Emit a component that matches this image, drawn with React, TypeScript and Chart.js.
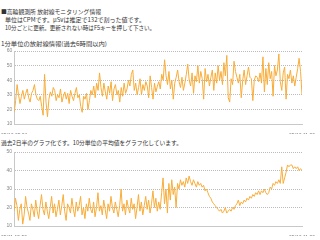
import React, { useEffect, useLayoutEffect, useRef } from "react";
import { Chart, registerables } from "chart.js";
Chart.register(...registerables);

const titleLines = [
  "■高輪観測所 放射線モニタリング情報",
  "単位はCPMです。μSvは推定で132で割った値です。",
  "10分ごとに更新。更新されない時はF5キーを押して下さい。",
];
const chart1Title = "1分単位の放射線情報(過去6時間以内)";
const chart2Title = "過去2日半のグラフ化です。10分単位の平均値をグラフ化しています。";

const minuteTicks = ["05/13 05:21", "05/13 11:20"];
const tenMinTicks = ["05/11 15:50", "05/13 11:20"];

const minuteValues = [
  18, 26, 37, 30, 24, 29, 33, 27, 31, 34,
  28, 25, 31, 33, 37, 30, 27, 26, 29, 22,
  16, 44, 25, 15, 27, 32, 29, 35, 33, 26,
  30, 28, 34, 25, 29, 32, 27, 31, 24, 33,
  29, 26, 31, 35, 28, 30, 22, 18, 29, 27,
  31, 20, 26, 33, 30, 36, 28, 38, 33, 45,
  35, 29, 38, 32, 27, 36, 31, 39, 26, 34,
  37, 30, 33, 25, 35, 29, 38, 31, 34, 40,
  36, 44, 47, 33, 38, 30, 35, 41, 30, 37,
  33, 39, 36, 28, 43, 35, 27, 38, 32, 36,
  39, 34, 44, 40, 54, 43, 37, 46, 34, 40,
  27, 38, 42, 47, 39, 35, 42, 33, 38, 44,
  51, 40, 36, 45, 31, 43, 39, 50, 38, 46,
  41, 27, 48, 39, 44, 36, 42, 47, 33, 45,
  38, 50, 40, 46, 37, 52, 43, 57, 28, 25,
  41, 37, 53, 46, 42, 38, 44, 28, 40, 47,
  37, 43, 49, 42, 41, 26, 40, 43, 42, 39,
  45, 38, 56, 32, 48, 37, 52, 41, 46, 29,
  50, 43, 47, 58, 39, 33, 45, 49, 27, 44,
  41, 47, 38, 43, 36, 42, 48, 55, 46, 30,
];

const tenMinValues = [
  18, 25, 21, 13, 19, 22, 11, 16, 26, 20,
  17, 13, 22, 19, 15, 24, 18, 14, 21, 27,
  19, 16, 23, 18, 14, 20, 26, 17, 22, 15,
  19, 24, 16, 21, 27, 18, 13, 22, 20, 17,
  25, 19, 15, 23, 18, 21, 26, 16, 20, 14,
  22, 18, 25, 19, 17, 23, 15, 20, 28, 18,
  21, 16, 24, 19, 14, 22, 18, 26, 20, 17,
  23, 19, 15, 21, 30, 18, 22, 16, 24, 20,
  17, 25, 19, 22, 14, 20, 27, 18, 23, 16,
  21, 26, 19, 24, 17, 22, 29, 20, 25, 18,
  23, 19, 28, 36, 22, 30, 17, 33, 24, 35,
  27, 31, 20, 33, 30, 35, 32, 34, 31, 36,
  33, 37, 34, 32, 35, 33, 31, 34, 32, 33,
  31, 32, 29, 30, 28, 26, 25, 23, 22, 21,
  20, 19, 18, 19, 17, 18, 20, 17, 18, 19,
  18, 20, 19, 21, 22, 24, 21, 23, 22, 24,
  23, 25, 24, 26, 25, 27, 26, 28, 27, 29,
  27, 29, 28, 30, 28, 27, 28, 31, 30, 33,
  32, 34, 33, 35, 33, 42, 33, 36, 39, 43,
  42, 43, 43, 41, 42, 41, 42, 40, 41, 40,
];

const minuteYTicks = [10, 20, 30, 40, 50, 60];
const tenMinYTicks = [10, 20, 30, 40, 50];

function LineChart(props: {
  values: number[];
  xTicks: string[];
  yTicks: number[];
  width: number;
  height: number;
  padTop: number;
}) {
  const ref = useRef<HTMLCanvasElement | null>(null);
  useEffect(() => {
    if (!ref.current) return;
    const { values, xTicks, yTicks, padTop } = props;
    const n = values.length;
    const chart = new Chart(ref.current, {
      type: "line",
      data: {
        datasets: [
          {
            data: values.map((v, i) => ({ x: i, y: v })),
            borderColor: "#f8ad3a",
            borderWidth: 1,
            pointRadius: 0,
            tension: 0,
            fill: false,
          },
        ],
      },
      options: {
        animation: false,
        responsive: false,
        plugins: { legend: { display: false }, tooltip: { enabled: false } },
        layout: { padding: { top: padTop, right: 18, left: 0, bottom: 0 } },
        scales: {
          x: {
            type: "linear",
            min: 0,
            max: n - 1,
            grid: { display: false },
            border: { display: true, color: "#c8c8c8", width: 1 },
            afterBuildTicks: (scale: any) => {
              scale.ticks = [{ value: 0 }, { value: n - 1 }];
            },
            afterFit: (scale: any) => {
              scale.height = 10;
            },
            ticks: {
              autoSkip: false,
              maxRotation: 0,
              padding: 1,
              color: "#777",
              font: { size: 5, family: "Liberation Sans" },
              callback: (v: any) => (v === 0 ? xTicks[0] : xTicks[1]),
            },
          },
          y: {
            min: yTicks[0],
            max: yTicks[yTicks.length - 1],
            afterBuildTicks: (scale: any) => {
              scale.ticks = yTicks.map((v) => ({ value: v }));
            },
            afterFit: (scale: any) => {
              scale.width = 12;
            },
            grid: { color: "#bbbbbb", drawTicks: false, lineWidth: 1 },
            border: { display: true, color: "#c8c8c8", width: 1, dash: [1, 1] },
            ticks: {
              padding: 2,
              color: "#888",
              font: { size: 5, family: "Liberation Sans" },
            },
          },
        },
      },
    } as any);
    return () => chart.destroy();
  }, []);
  return (
    <canvas
      ref={ref}
      width={props.width}
      height={props.height}
      style={{ width: props.width, height: props.height, display: "block" }}
    />
  );
}

function FitText(props: { text: string; left: number; top: number; width: number }) {
  const ref = useRef<HTMLSpanElement | null>(null);
  useLayoutEffect(() => {
    const el = ref.current;
    if (!el) return;
    el.style.transform = "none";
    const w = el.getBoundingClientRect().width;
    if (w > 0) el.style.transform = `scaleX(${props.width / w})`;
  }, []);
  return (
    <span
      ref={ref}
      style={{
        position: "absolute",
        left: props.left,
        top: props.top,
        display: "inline-block",
        transformOrigin: "0 0",
        fontFamily: '"Noto Sans CJK JP", sans-serif',
        fontSize: "6px",
        lineHeight: "8px",
        color: "#333",
        whiteSpace: "nowrap",
      }}
    >
      {props.text}
    </span>
  );
}

export default function App() {
  useEffect(() => {
    document.body.style.margin = "0";
  }, []);
  return (
    <div
      style={{
        position: "fixed",
        left: 0,
        top: 0,
        width: 320,
        height: 240,
        background: "#fff",
        overflow: "hidden",
      }}
    >
      <FitText text={titleLines[0]} left={1} top={7.7} width={100} />
      <FitText text={titleLines[1]} left={5} top={15.7} width={140} />
      <FitText text={titleLines[2]} left={5} top={23.7} width={150} />
      <FitText text={chart1Title} left={1} top={39.7} width={106} />
      <div style={{ position: "absolute", left: 0, top: 46 }}>
        <LineChart
          values={minuteValues}
          xTicks={minuteTicks}
          yTicks={minuteYTicks}
          width={320}
          height={88}
          padTop={5}
        />
      </div>
      <FitText text={chart2Title} left={1} top={138.7} width={181} />
      <div style={{ position: "absolute", left: 0, top: 146 }}>
        <LineChart
          values={tenMinValues}
          xTicks={tenMinTicks}
          yTicks={tenMinYTicks}
          width={320}
          height={90}
          padTop={6}
        />
      </div>
    </div>
  );
}
